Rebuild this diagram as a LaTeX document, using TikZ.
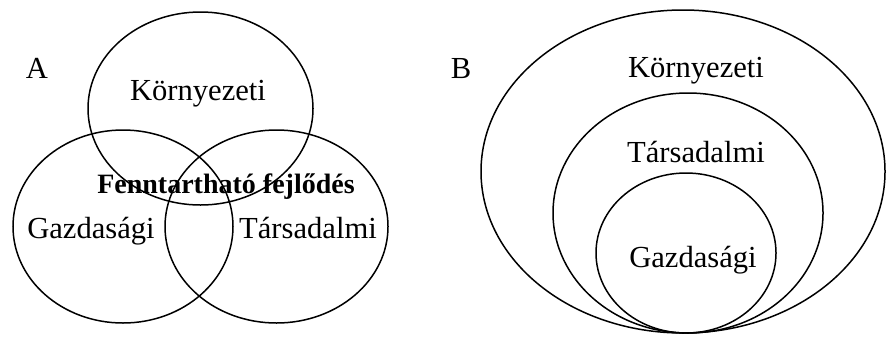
\documentclass[tikz,border=0pt]{standalone}
\usepackage{fontspec}
\setmainfont{Liberation Serif}
\usetikzlibrary{shapes.geometric}

\begin{document}
\begin{tikzpicture}[x=0.5pt, y=-0.5pt,
  ring/.style={draw, ellipse, inner sep=0pt, line width=0.75pt},
  lbl/.style={anchor=base, font=\fontsize{15.3}{18}\selectfont}]
  \useasboundingbox (0,0) rectangle (886,343);
  % A: three overlapping circles
  \node[ring, minimum width=112.5pt, minimum height=96.5pt] (envA) at (200.5,108.5) {};
  \node[ring, minimum width=110pt, minimum height=96.5pt] (ecoA) at (123,226.5) {};
  \node[ring, minimum width=111.5pt, minimum height=96.5pt] (socA) at (276.5,226.5) {};
  \node[lbl] (tagA) at (37,78) {A};
  \node[lbl] (envAl) at (198,100) {Környezeti};
  \node[lbl, font=\fontsize{14}{17}\selectfont\bfseries] (sust) at (226,193) {Fenntartható fejlődés};
  \node[lbl] (ecoAl) at (91,238) {Gazdasági};
  \node[lbl] (socAl) at (308,238) {Társadalmi};
  % B: nested circles touching at the bottom
  \node[ring, minimum width=202pt, minimum height=161.5pt] (envB) at (683,171.5) {};
  \node[ring, minimum width=135pt, minimum height=120pt] (socB) at (688,213) {};
  \node[ring, minimum width=90pt, minimum height=80pt] (ecoB) at (686,253) {};
  \node[lbl] (tagB) at (461,78) {B};
  \node[lbl] (envBl) at (696,77) {Környezeti};
  \node[lbl] (socBl) at (696,162) {Társadalmi};
  \node[lbl] (ecoBl) at (693,267) {Gazdasági};
\end{tikzpicture}
\end{document}
